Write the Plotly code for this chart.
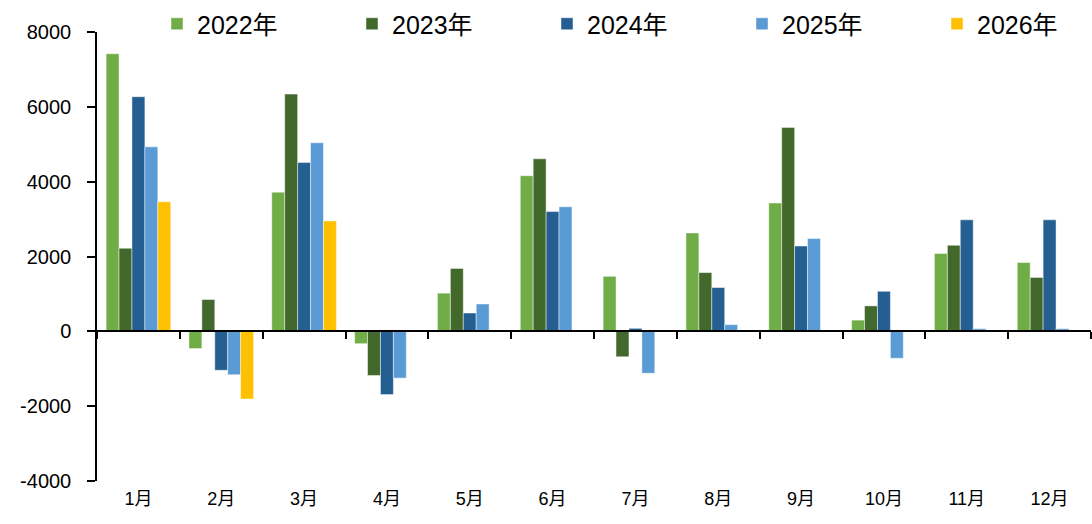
import plotly.graph_objects as go

months = ["1月", "2月", "3月", "4月", "5月", "6月", "7月", "8月", "9月", "10月", "11月", "12月"]
y2022 = [7420, -460, 3720, -330, 1020, 4160, 1470, 2630, 3430, 300, 2080, 1840]
y2023 = [2220, 850, 6340, -1180, 1680, 4610, -680, 1570, 5450, 680, 2300, 1440]
y2024 = [6270, -1040, 4510, -1690, 490, 3200, 80, 1170, 2280, 1070, 2980, 2980]
y2025 = [4930, -1160, 5040, -1250, 730, 3330, -1120, 180, 2480, -720, 70, 70]
y2026 = [3460, -1810, 2950, None, None, None, None, None, None, None, None, None]

series = [
    ("2022年", y2022, "#70AD47"),
    ("2023年", y2023, "#43682B"),
    ("2024年", y2024, "#255E91"),
    ("2025年", y2025, "#5B9BD5"),
    ("2026年", y2026, "#FFC000"),
]

ytickvals = [-4000, -2000, 0, 2000, 4000, 6000, 8000]
yticktext = ["-4000", "-2000", "0", "2000", "4000", "6000", "8000"]

FONT = "Liberation Sans, Noto Sans CJK SC, sans-serif"
W, H = 1092, 524
legend_x_px = [157, 352, 547, 742, 937]

fig = go.Figure()
legend_ids = ["legend", "legend2", "legend3", "legend4", "legend5"]
for (name, vals, color), lid in zip(series, legend_ids):
    fig.add_trace(go.Bar(
        x=months, y=vals, name=name, legend=lid,
        marker=dict(color=color, line=dict(color="rgba(255,255,255,0.45)", width=1)),
    ))

# helper trace so the zero-crossing axis (x2) is rendered
fig.add_trace(go.Scatter(
    x=months, y=[None] * len(months), xaxis="x2", yaxis="y",
    mode="lines", showlegend=False, hoverinfo="skip",
))

legend_common = dict(
    orientation="h", xref="container", yref="container",
    xanchor="left", y=1 - 1 / H, yanchor="top",
    font=dict(family=FONT, size=25, color="#000000"),
    bgcolor="rgba(0,0,0,0)", itemclick=False,
)
layout_legends = {}
for lid, px in zip(legend_ids, legend_x_px):
    layout_legends[lid] = dict(legend_common, x=px / W)

fig.update_layout(
    width=W, height=H,
    margin=dict(l=97, r=1, t=32, b=43, autoexpand=False),
    paper_bgcolor="white", plot_bgcolor="white",
    barmode="group", bargap=0.22, bargroupgap=0,
    font=dict(family=FONT, size=18, color="#000000"),
    showlegend=True,
    xaxis=dict(
        type="category", categoryorder="array", categoryarray=months,
        range=[-0.5, 11.5],
        showline=False, ticks="", showgrid=False, zeroline=False,
        tickfont=dict(family=FONT, size=18, color="#000000"),
        ticklabelstandoff=5,
    ),
    xaxis2=dict(
        matches="x", overlaying="x", anchor="free", position=1 / 3,
        type="category", categoryorder="array", categoryarray=months,
        showline=True, linecolor="#000000", linewidth=2,
        ticks="outside", tickson="boundaries", ticklen=7, tickwidth=2, tickcolor="#000000",
        showticklabels=False, showgrid=False, zeroline=False,
    ),
    yaxis=dict(
        range=[-4000, 8000], domain=[0, 1],
        tickvals=ytickvals, ticktext=yticktext,
        showline=True, linecolor="#000000", linewidth=1.5,
        ticks="outside", ticklen=8, tickwidth=1.5, tickcolor="#000000",
        showgrid=False, zeroline=False,
        tickfont=dict(family=FONT, size=20, color="#000000"),
        ticklabelstandoff=12,
    ),
    **layout_legends,
)

fig.write_html("out.html")
